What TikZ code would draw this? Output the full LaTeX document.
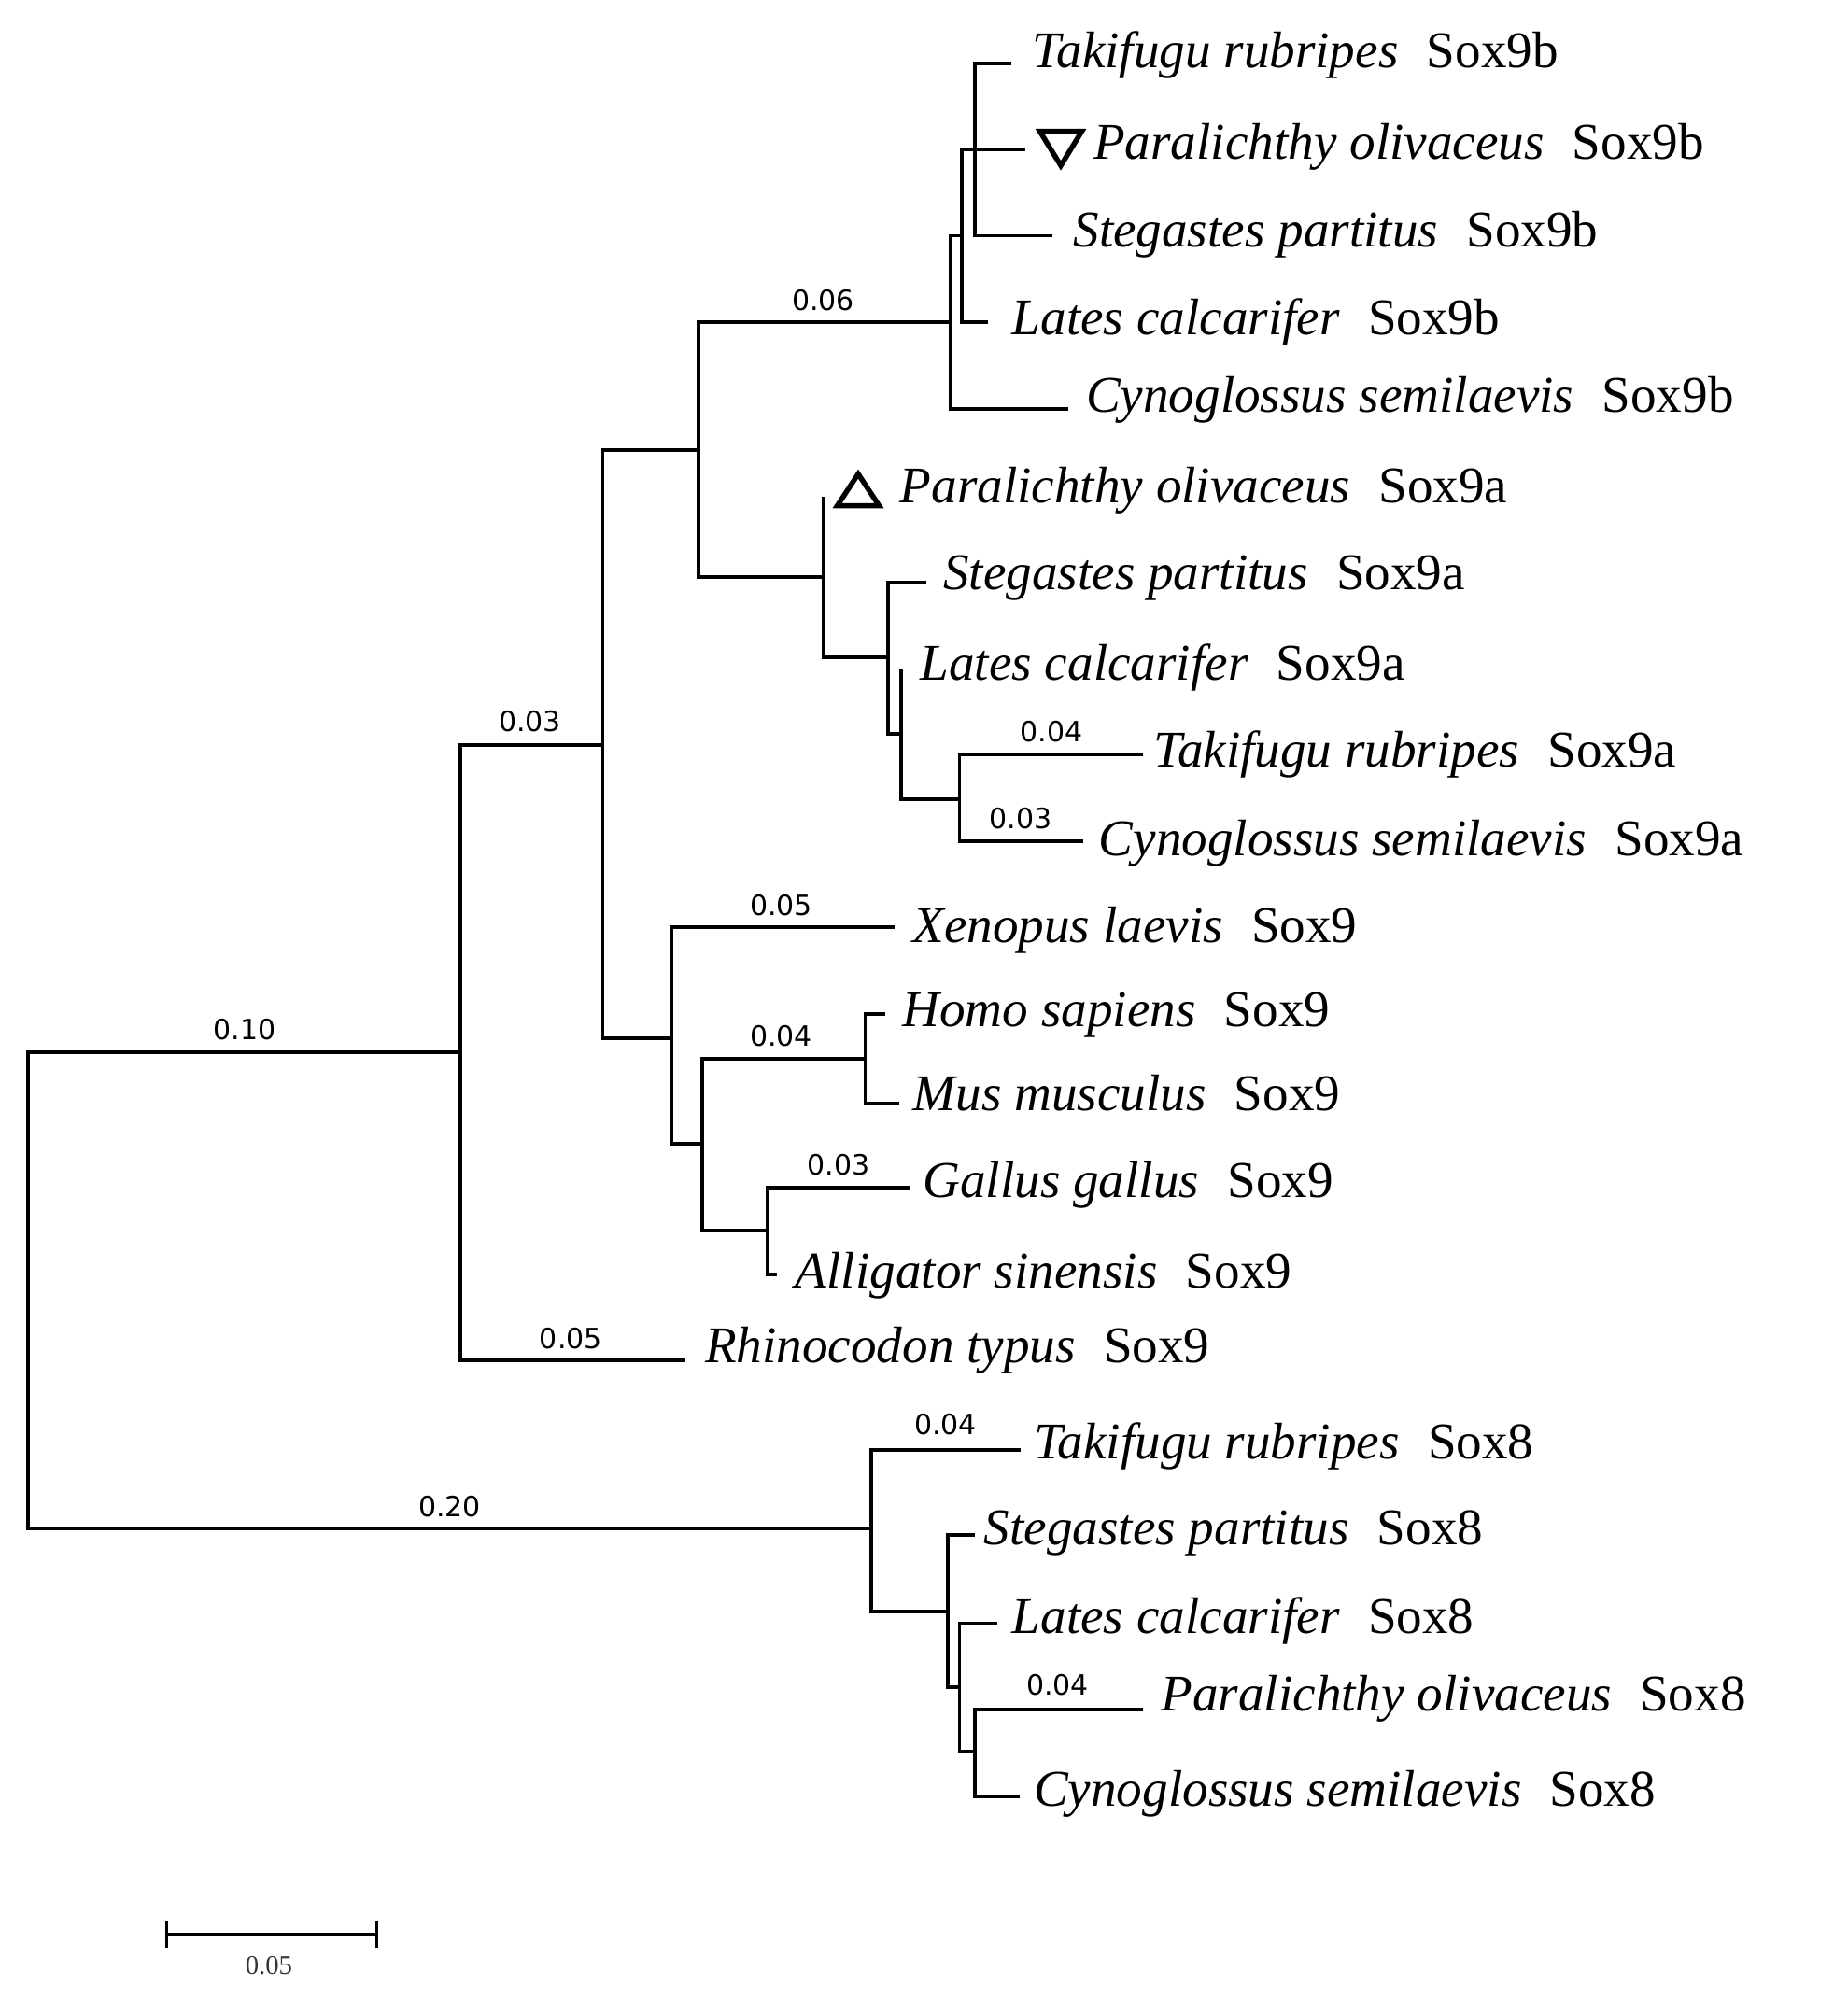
\documentclass[tikz,border=0pt]{standalone}
\usepackage{fontspec}
\setmainfont{Liberation Serif}
\newfontfamily\numfont{DejaVu Sans}
\tikzset{
  br/.style={line width=1.6pt},
  lab/.style={anchor=west,inner sep=0pt,font=\fontsize{23}{26}\selectfont},
  bl/.style={anchor=south,inner sep=0pt,font=\numfont\fontsize{12.5}{14}\selectfont},
  tri/.style={line width=2.3pt,line join=miter}
}
\newcommand{\taxon}[2]{\textit{#1}\hspace{0.55em}#2}
\begin{document}
\begin{tikzpicture}[x=0.02cm,y=-0.02cm]
\useasboundingbox (0,0) rectangle (1450,1569);
% inner nodes
\coordinate (root) at (22,1013);
\coordinate (s9) at (361,826);
\coordinate (na) at (473,585);
\coordinate (nb) at (548,353);
\coordinate (b9) at (746,253);
\coordinate (b9x) at (755,185);
\coordinate (b9y) at (765,117);
\coordinate (a9) at (646,453);
\coordinate (a9x) at (697,516);
\coordinate (a9y) at (707,576);
\coordinate (a9z) at (753,627);
\coordinate (nc) at (527,815);
\coordinate (nd) at (551,898);
\coordinate (hm) at (679,831);
\coordinate (ga) at (602,966);
\coordinate (s8) at (684,1200);
\coordinate (s8x) at (744,1265);
\coordinate (s8y) at (753,1324);
\coordinate (s8z) at (765,1375);
% leaves
\node[lab] (t1) at (810,43) {\taxon{Takifugu rubripes}{Sox9b}};
\node[lab] (t2) at (858,115) {\taxon{Paralichthy olivaceus}{Sox9b}};
\node[lab] (t3) at (842,184) {\taxon{Stegastes partitus}{Sox9b}};
\node[lab] (t4) at (794,253) {\taxon{Lates calcarifer}{Sox9b}};
\node[lab] (t5) at (852,314) {\taxon{Cynoglossus semilaevis}{Sox9b}};
\node[lab] (t6) at (706,385) {\taxon{Paralichthy olivaceus}{Sox9a}};
\node[lab] (t7) at (740,454) {\taxon{Stegastes partitus}{Sox9a}};
\node[lab] (t8) at (722,524) {\taxon{Lates calcarifer}{Sox9a}};
\node[lab] (t9) at (905,592) {\taxon{Takifugu rubripes}{Sox9a}};
\node[lab] (t10) at (862,662) {\taxon{Cynoglossus semilaevis}{Sox9a}};
\node[lab] (t11) at (716,730) {\taxon{Xenopus laevis}{Sox9}};
\node[lab] (t12) at (708,797) {\taxon{Homo sapiens}{Sox9}};
\node[lab] (t13) at (716,858) {\taxon{Mus musculus}{Sox9}};
\node[lab] (t14) at (724,930) {\taxon{Gallus gallus}{Sox9}};
\node[lab] (t15) at (624,1001) {\taxon{Alligator sinensis}{Sox9}};
\node[lab] (t16) at (553,1060) {\taxon{Rhinocodon typus}{Sox9}};
\node[lab] (t17) at (811,1135) {\taxon{Takifugu rubripes}{Sox8}};
\node[lab] (t18) at (772,1203) {\taxon{Stegastes partitus}{Sox8}};
\node[lab] (t19) at (794,1272) {\taxon{Lates calcarifer}{Sox8}};
\node[lab] (t20) at (911,1333) {\taxon{Paralichthy olivaceus}{Sox8}};
\node[lab] (t21) at (811,1408) {\taxon{Cynoglossus semilaevis}{Sox8}};
% tips
\coordinate (e1) at (794,50);
\coordinate (e2) at (805,117);
\coordinate (e3) at (826,185);
\coordinate (e4) at (775,253);
\coordinate (e5) at (838,321);
\coordinate (e6) at (646,390);
\coordinate (e7) at (727,457);
\coordinate (e8) at (707,525);
\coordinate (e9) at (897,592);
\coordinate (e10) at (850,660);
\coordinate (e11) at (702,728);
\coordinate (e12) at (695,796);
\coordinate (e13) at (706,866);
\coordinate (e14) at (714,932);
\coordinate (e15) at (610,1000);
\coordinate (e16) at (538,1068);
\coordinate (e17) at (801,1138);
\coordinate (e18) at (765,1205);
\coordinate (e19) at (783,1274);
\coordinate (e20) at (897,1342);
\coordinate (e21) at (800,1410);
% branches
\draw[br] (root) |- (s9);
\draw[br] (root) |- (s8);
\draw[br] (s9) |- (na);
\draw[br] (s9) |- (e16);
\draw[br] (na) |- (nb);
\draw[br] (na) |- (nc);
\draw[br] (nb) |- (b9);
\draw[br] (nb) |- (a9);
\draw[br] (b9) |- (b9x);
\draw[br] (b9) |- (e5);
\draw[br] (b9x) |- (b9y);
\draw[br] (b9x) |- (e4);
\draw[br] (b9x) |- (e2);
\draw[br] (b9y) |- (e1);
\draw[br] (b9y) |- (e3);
\draw[br] (a9) |- (e6);
\draw[br] (a9) |- (a9x);
\draw[br] (a9x) |- (e7);
\draw[br] (a9x) |- (a9y);
\draw[br] (a9y) |- (e8);
\draw[br] (a9y) |- (a9z);
\draw[br] (a9z) |- (e9);
\draw[br] (a9z) |- (e10);
\draw[br] (nc) |- (e11);
\draw[br] (nc) |- (nd);
\draw[br] (nd) |- (hm);
\draw[br] (nd) |- (ga);
\draw[br] (hm) |- (e12);
\draw[br] (hm) |- (e13);
\draw[br] (ga) |- (e14);
\draw[br] (ga) |- (e15);
\draw[br] (s8) |- (e17);
\draw[br] (s8) |- (s8x);
\draw[br] (s8x) |- (e18);
\draw[br] (s8x) |- (s8y);
\draw[br] (s8y) |- (e19);
\draw[br] (s8y) |- (s8z);
\draw[br] (s8z) |- (e20);
\draw[br] (s8z) |- (e21);
% markers
\draw[tri] (816,103) -- (849,103) -- (832.5,130) -- cycle;
\draw[tri] (657,397) -- (690,397) -- (673.5,372) -- cycle;
% branch lengths
\node[bl] (l1) at (192,817) {0.10};
\node[bl] (l2) at (353,1191) {0.20};
\node[bl] (l3) at (416,575) {0.03};
\node[bl] (l4) at (448,1059) {0.05};
\node[bl] (l5) at (646,244) {0.06};
\node[bl] (l6) at (825,583) {0.04};
\node[bl] (l7) at (801,651) {0.03};
\node[bl] (l8) at (613,719) {0.05};
\node[bl] (l9) at (613,822) {0.04};
\node[bl] (l10) at (658,923) {0.03};
\node[bl] (l11) at (742,1127) {0.04};
\node[bl] (l12) at (830,1331) {0.04};
% scale
\coordinate (sc1) at (131,1518);
\coordinate (sc2) at (296,1518);
\draw[line width=1.2pt] (sc1) -- (sc2);
\draw[line width=1.2pt] ([yshift=-6pt]sc1) -- ([yshift=6pt]sc1);
\draw[line width=1.2pt] ([yshift=-6pt]sc2) -- ([yshift=6pt]sc2);
\node[font=\fontsize{12}{14}\selectfont,text=black!80] (sl) at (211,1543) {0.05};
\end{tikzpicture}
\end{document}
